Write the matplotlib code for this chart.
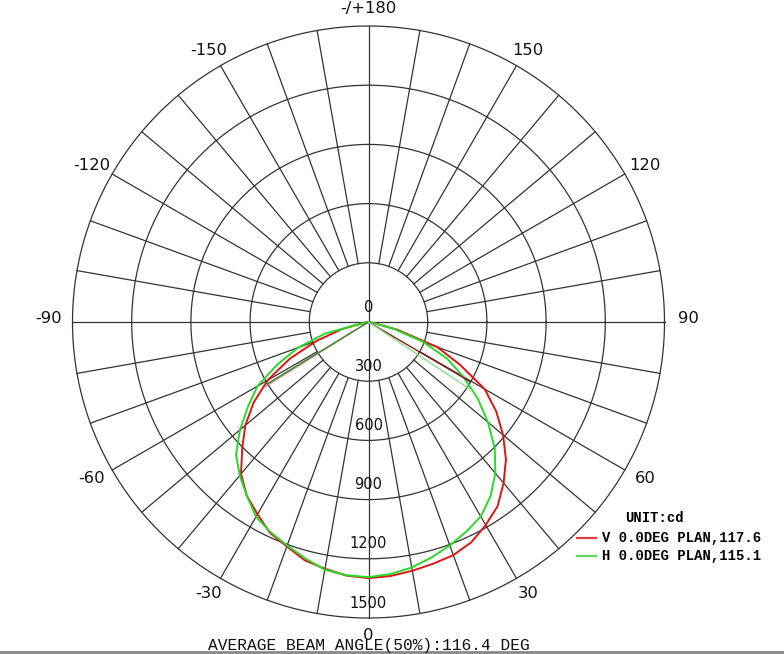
import numpy as np
import matplotlib
matplotlib.use('Agg')
import matplotlib.pyplot as plt

# angles in degrees, 0 = straight down, +90 = right
angles = [-90, -85, -80, -75, -70, -65, -60, -55, -50, -45, -40, -35, -30, -25, -20, -15, -10, -5,
          0, 5, 10, 15, 20, 25, 30, 35, 40, 45, 50, 55, 60, 65, 70, 75, 80, 85, 90]

v_plane = [0, 0, 20, 140, 280, 440, 590, 710, 815, 905, 1005, 1075, 1125, 1180, 1210, 1250, 1270, 1290,
           1298, 1292, 1280, 1268, 1257, 1232, 1188, 1140, 1065, 985, 890, 790, 680, 510, 370, 150, 20, 0, 0]

h_plane = [0, 0, 30, 230, 380, 510, 650, 745, 850, 950, 1015, 1075, 1140, 1175, 1205, 1240, 1275, 1288,
           1293, 1282, 1263, 1235, 1205, 1172, 1138, 1078, 1000, 905, 790, 675, 555, 440, 295, 130, 20, 0, 0]

# half beam angle lines (left, right)
v_beam_ang = [-58.0, 59.6]
v_beam_len = [623, 598]
h_beam_ang = [-58.6, 56.5]
h_beam_len = [601, 623]

rings = [300, 600, 900, 1200, 1500]
ring_labels = ['0', '300', '600', '900', '1200', '1500']
ang_ticks = [0, 30, 60, 90, 120, 150, 180, -150, -120, -90, -60, -30]
ang_labels = ['0', '30', '60', '90', '120', '150', '-/+180', '-150', '-120', '-90', '-60', '-30']

legend_names = ['V 0.0DEG PLAN,117.6', 'H 0.0DEG PLAN,115.1']
beam_text = 'AVERAGE BEAM ANGLE(50%):116.4 DEG'


def xy(ang, r):
    a = np.radians(np.asarray(ang, dtype=float))
    r = np.asarray(r, dtype=float)
    return r * np.sin(a), -r * np.cos(a)


W, H = 784, 654
cx, cy = 368.5, 322
k = 1500 / 296.0  # cd per pixel

fig = plt.figure(figsize=(W / 100, H / 100), dpi=100)
ax = fig.add_axes([0, 0, 1, 1])
ax.set_xlim(-cx * k, (W - cx) * k)
ax.set_ylim(-(H - cy) * k, cy * k)
ax.axis('off')

gc = '#333333'
t = np.linspace(0, 2 * np.pi, 721)
for r in rings:
    ax.plot(r * np.cos(t), r * np.sin(t), color=gc, lw=0.9)

for a in range(-180, 180, 10):
    r0 = 0 if a % 90 == 0 else rings[0]
    x, y = xy([a, a], [r0, rings[-1]])
    ax.plot(x, y, color=gc, lw=0.9)

for i, lab in enumerate(ring_labels):
    r = 0 if i == 0 else rings[i - 1]
    ax.text(0, -r + 76, lab, ha='center', va='center', fontsize=10.5, color='#111111')

for a, lab in zip(ang_ticks, ang_labels):
    x, _ = xy(a, 1620)
    _, y = xy(a, 1590)
    if abs(a) == 90:
        y += 20
    ax.text(x, y, lab, ha='center', va='center', fontsize=11.8, color='#111111')

x, y = xy(angles, v_plane)
ax.plot(x, y, color='#dd1515', lw=1.4)
x, y = xy(angles, h_plane)
ax.plot(x, y, color='#2ad82a', lw=1.4)

for a, L, c in zip(v_beam_ang, v_beam_len, ['#d87a7a', '#8c1a1a']):
    x, y = xy([a, a], [0, L])
    ax.plot(x, y, color=c, lw=1.0)
for a, L, c in zip(h_beam_ang, h_beam_len, ['#2f8f2f', '#86e386']):
    x, y = xy([a, a], [0, L])
    ax.plot(x, y, color=c, lw=1.0)

mono = 'Liberation Mono'
ax.text(625 / W, 1 - 518 / H, 'UNIT:cd', transform=ax.transAxes, ha='left', va='center',
        family=mono, weight='bold', fontsize=10)
for i, (name, c) in enumerate(zip(legend_names, ['#e03c3c', '#5fd35f'])):
    py = 538 + 18 * i
    ax.plot([577 / W, 596 / W], [1 - py / H, 1 - py / H], transform=ax.transAxes, color=c, lw=1.6)
    ax.text(602 / W, 1 - py / H, name, transform=ax.transAxes, ha='left', va='center',
            family=mono, weight='bold', fontsize=10)

ax.text(208 / W, 1 - 650 / H, beam_text, transform=ax.transAxes, ha='left', va='baseline',
        family=mono, fontsize=11.7, color='#111111')
ax.plot([0, 1], [1 - 651.5 / H, 1 - 651.5 / H], transform=ax.transAxes, color='#888888', lw=2)

plt.savefig('out.png', dpi=100)
